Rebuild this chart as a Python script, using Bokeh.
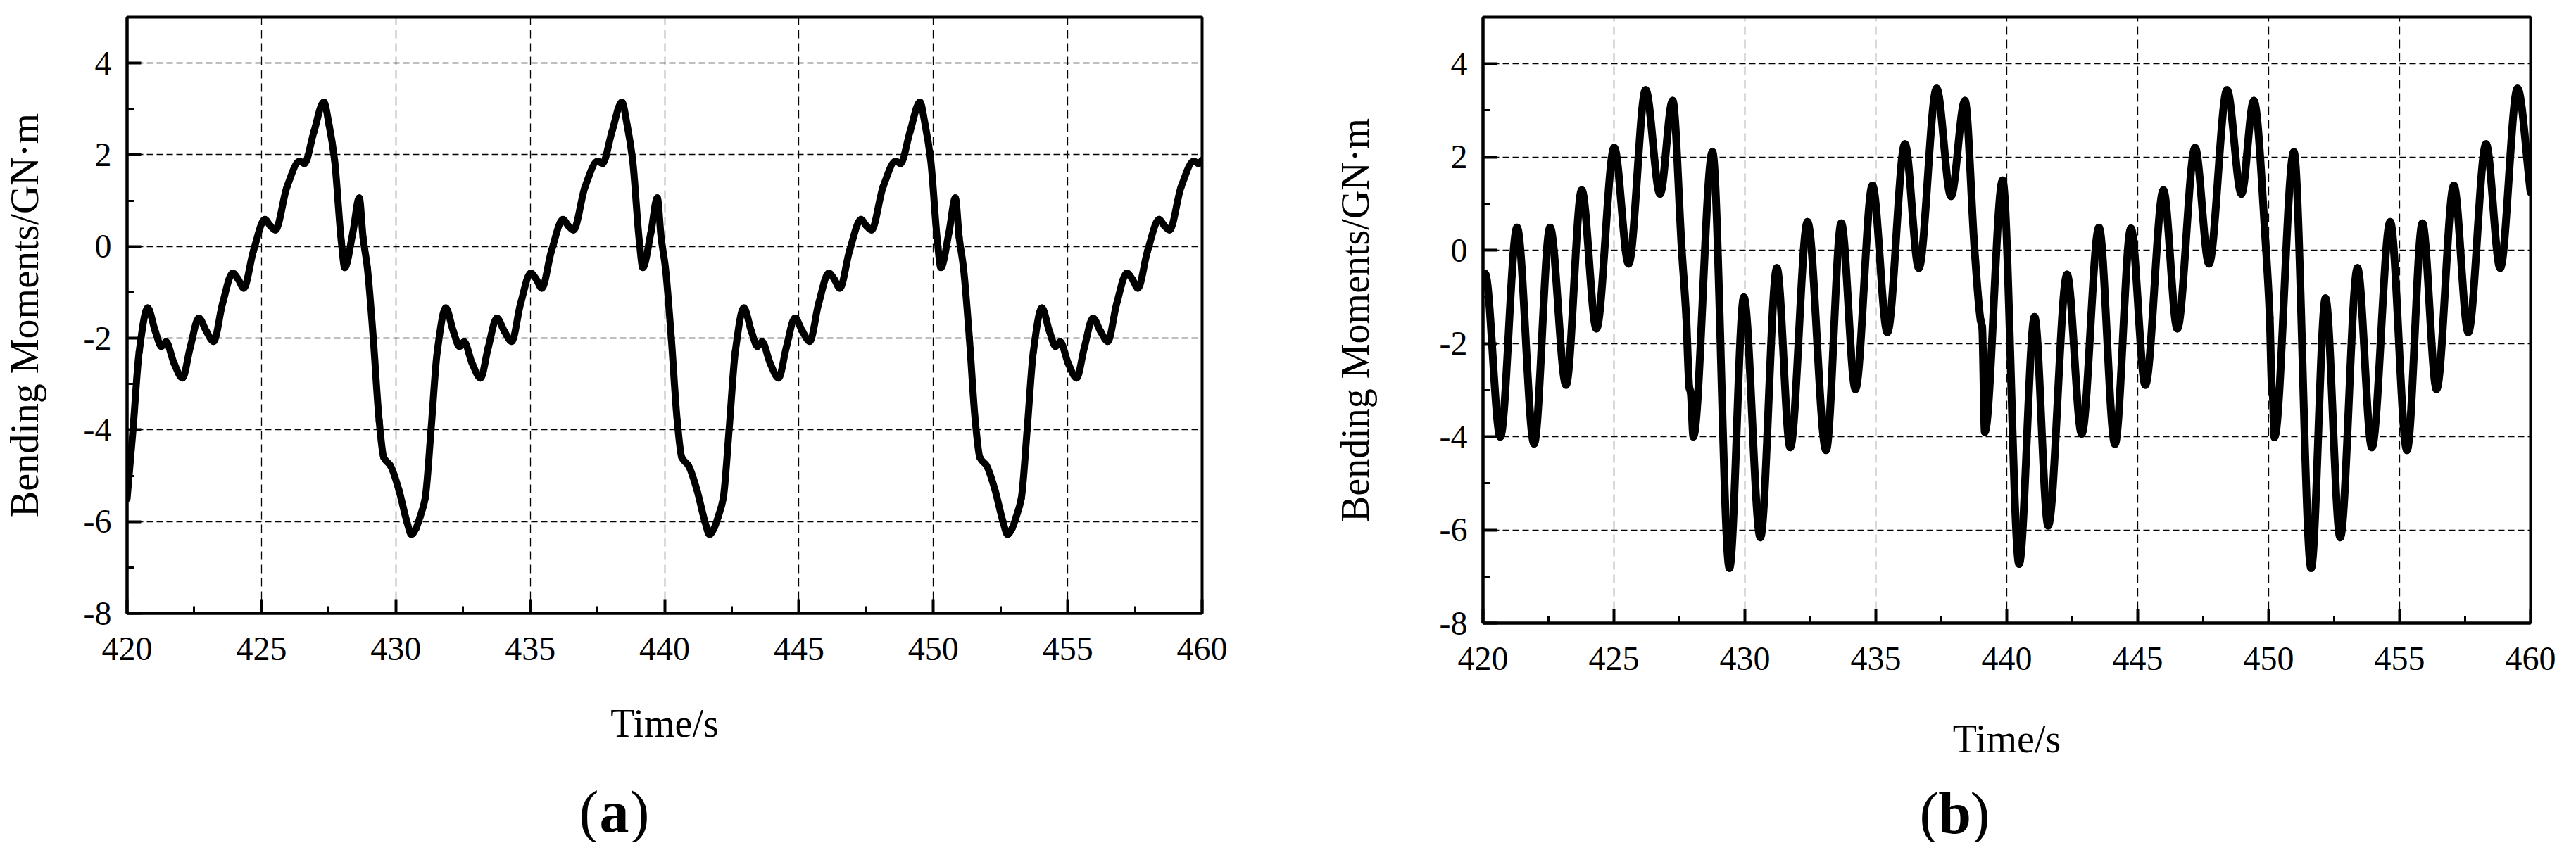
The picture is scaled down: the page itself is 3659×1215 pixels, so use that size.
import numpy as np
from bokeh.plotting import figure
from bokeh.models import FixedTicker, Range1d
from bokeh.layouts import row, column
from bokeh.core.properties import value
from bokeh.embed import file_html
from bokeh.resources import INLINE

# ---------------- data ----------------
x_ticks = [420, 425, 430, 435, 440, 445, 450, 455, 460]
x_minor = [422.5, 427.5, 432.5, 437.5, 442.5, 447.5, 452.5, 457.5]
y_ticks = [-8, -6, -4, -2, 0, 2, 4]
y_minor = [-7, -5, -3, -1, 1, 3]

y_title = "Bending Moments/GN\u00b7m"
x_title = "Time/s"
captions = ["a", "b"]

# (a) time [s]
time_a = [
    420.00, 420.22, 420.45, 420.77, 421.05, 421.28, 421.45, 421.75, 422.06, 422.35,
    422.67, 422.95, 423.22, 423.55, 423.93, 424.14, 424.34, 424.70, 425.13, 425.33,
    425.52, 425.95, 426.42, 426.60, 426.95, 427.32, 427.52, 427.72, 427.97, 428.10,
    428.40, 428.64, 428.78, 428.94, 429.16, 429.38, 429.55, 429.80, 430.11, 430.41,
    430.58, 430.75, 430.90,
    431.09, 431.31, 431.54, 431.86, 432.14, 432.37, 432.54, 432.84, 433.15, 433.44,
    433.76, 434.04, 434.31, 434.64, 435.02, 435.23, 435.43, 435.79, 436.22, 436.42,
    436.61, 437.04, 437.51, 437.69, 438.04, 438.41, 438.61, 438.81, 439.06, 439.19,
    439.49, 439.73, 439.87, 440.03, 440.25, 440.47, 440.64, 440.89, 441.20, 441.50,
    441.67, 441.84, 441.99,
    442.18, 442.40, 442.63, 442.95, 443.23, 443.46, 443.63, 443.93, 444.24, 444.53,
    444.85, 445.13, 445.40, 445.73, 446.11, 446.32, 446.52, 446.88, 447.31, 447.51,
    447.70, 448.13, 448.60, 448.78, 449.13, 449.50, 449.70, 449.90, 450.15, 450.28,
    450.58, 450.82, 450.96, 451.12, 451.34, 451.56, 451.73, 451.98, 452.29, 452.59,
    452.76, 452.93, 453.08,
    453.27, 453.49, 453.72, 454.04, 454.32, 454.55, 454.72, 455.02, 455.33, 455.62,
    455.94, 456.22, 456.49, 456.82, 457.20, 457.41, 457.61, 457.97, 458.40, 458.60,
    458.79, 459.22, 459.69, 459.87, 460.00,
]
# (a) bending moment [GN·m]
moment_a = [
    -5.50, -4.00, -2.30, -1.34, -1.85, -2.18, -2.08, -2.55, -2.87, -2.20,
    -1.56, -1.85, -2.07, -1.25, -0.58, -0.72, -0.91, -0.10, 0.59, 0.45,
    0.36, 1.30, 1.86, 1.81, 2.50, 3.15, 2.64, 1.89, 0.12, -0.46,
    0.30, 1.06, 0.20, -0.46, -2.00, -3.80, -4.60, -4.78, -5.30, -6.00,
    -6.28, -6.15, -5.90,
    -5.50, -4.00, -2.30, -1.34, -1.85, -2.18, -2.08, -2.55, -2.87, -2.20,
    -1.56, -1.85, -2.07, -1.25, -0.58, -0.72, -0.91, -0.10, 0.59, 0.45,
    0.36, 1.30, 1.86, 1.81, 2.50, 3.15, 2.64, 1.89, 0.12, -0.46,
    0.30, 1.06, 0.20, -0.46, -2.00, -3.80, -4.60, -4.78, -5.30, -6.00,
    -6.28, -6.15, -5.90,
    -5.50, -4.00, -2.30, -1.34, -1.85, -2.18, -2.08, -2.55, -2.87, -2.20,
    -1.56, -1.85, -2.07, -1.25, -0.58, -0.72, -0.91, -0.10, 0.59, 0.45,
    0.36, 1.30, 1.86, 1.81, 2.50, 3.15, 2.64, 1.89, 0.12, -0.46,
    0.30, 1.06, 0.20, -0.46, -2.00, -3.80, -4.60, -4.78, -5.30, -6.00,
    -6.28, -6.15, -5.90,
    -5.50, -4.00, -2.30, -1.34, -1.85, -2.18, -2.08, -2.55, -2.87, -2.20,
    -1.56, -1.85, -2.07, -1.25, -0.58, -0.72, -0.91, -0.10, 0.59, 0.45,
    0.36, 1.30, 1.86, 1.81, 1.88,
]

# (b) time [s]
time_b = [
    420.00, 420.08, 420.66, 421.30, 421.95, 422.56, 423.17, 423.77, 424.33, 425.01,
    425.56, 426.21, 426.76, 427.24, 427.59, 427.76, 427.88, 427.93, 428.03, 428.76,
    429.41, 429.96, 430.59, 431.22, 431.73, 432.39, 433.10, 433.68, 434.22, 434.87,
    435.44, 436.11, 436.64, 437.32, 437.87, 438.40, 438.77, 439.00, 439.06, 439.16,
    439.84, 440.47, 441.06, 441.58, 442.30, 442.86, 443.52, 444.13, 444.74, 445.29,
    445.98, 446.51, 447.19, 447.72, 448.41, 448.96, 449.43, 449.90, 450.04, 450.12,
    450.15, 450.22, 450.96, 451.62, 452.17, 452.73, 453.39, 453.94, 454.64, 455.28,
    455.87, 456.41, 457.07, 457.62, 458.30, 458.84, 459.50, 460.00,
]
# (b) bending moment [GN·m]
moment_b = [
    -0.58, -0.50, -4.00, 0.49, -4.15, 0.49, -2.89, 1.29, -1.68, 2.20,
    -0.29, 3.44, 1.21, 3.21, 0.00, -1.44, -2.95, -3.05, -4.00, 2.11,
    -6.82, -1.01, -6.16, -0.38, -4.23, 0.61, -4.29, 0.58, -2.98, 1.39,
    -1.76, 2.28, -0.38, 3.47, 1.16, 3.21, 0.00, -1.50, -1.65, -3.90,
    1.50, -6.73, -1.43, -5.91, -0.52, -3.94, 0.49, -4.16, 0.47, -2.89,
    1.29, -1.68, 2.20, -0.29, 3.44, 1.21, 3.21, 0.00, -1.44, -2.95,
    -3.05, -4.01, 2.11, -6.82, -1.03, -6.16, -0.38, -4.23, 0.61, -4.29,
    0.58, -2.98, 1.39, -1.76, 2.28, -0.38, 3.47, 1.24,
]

FONT = "Liberation Serif"


def smooth_segments(t, v):
    """Monotone cubic (Fritsch-Carlson) rendering through the read points,
    returned as Bezier segments (no extra data points are created)."""
    t = np.asarray(t, float)
    v = np.asarray(v, float)
    h = np.diff(t)
    d = np.diff(v) / h
    m = np.zeros_like(t)
    m[0] = d[0]
    m[-1] = d[-1]
    for i in range(1, len(t) - 1):
        if d[i - 1] * d[i] > 0:
            w1 = 2 * h[i] + h[i - 1]
            w2 = h[i] + 2 * h[i - 1]
            m[i] = (w1 + w2) / (w1 / d[i - 1] + w2 / d[i])
    return dict(
        x0=t[:-1], y0=v[:-1], x1=t[1:], y1=v[1:],
        cx0=t[:-1] + h / 3, cy0=v[:-1] + m[:-1] * h / 3,
        cx1=t[1:] - h / 3, cy1=v[1:] - m[1:] * h / 3,
    )


def make_panel(t, v, lw, fw, fh, mb_left, mb_right, mb_top, mb_bottom,
               xlab_standoff, ylab_standoff):
    p = figure(
        frame_width=fw, frame_height=fh,
        x_range=Range1d(420, 460), y_range=Range1d(-8, 5),
        output_backend="svg", toolbar_location=None,
        min_border_left=mb_left, min_border_right=mb_right,
        min_border_top=mb_top, min_border_bottom=mb_bottom,
        background_fill_color="white", border_fill_color="white",
    )
    p.outline_line_color = "black"
    p.outline_line_width = 4
    p.outline_line_alpha = 1.0

    p.xaxis.ticker = FixedTicker(ticks=x_ticks, minor_ticks=x_minor)
    p.yaxis.ticker = FixedTicker(ticks=y_ticks, minor_ticks=y_minor)
    p.xaxis.major_label_overrides = {k: str(k) for k in x_ticks}
    p.yaxis.major_label_overrides = {k: str(k) for k in y_ticks}

    for ax in (p.xaxis, p.yaxis):
        ax.axis_line_width = 4
        ax.axis_line_color = "black"
        ax.major_tick_line_width = 4
        ax.major_tick_line_color = "black"
        ax.major_tick_in = 20
        ax.major_tick_out = 0
        ax.minor_tick_line_width = 3
        ax.minor_tick_line_color = "black"
        ax.minor_tick_in = 10
        ax.minor_tick_out = 0
        ax.major_label_text_font = FONT
        ax.major_label_text_font_size = "48px"
        ax.major_label_text_color = "black"
        ax.axis_label_text_font = FONT
        ax.axis_label_text_font_size = "56px"
        ax.axis_label_text_font_style = "normal"
        ax.axis_label_text_color = "black"

    p.xaxis.major_label_standoff = 34
    p.yaxis.major_label_standoff = 22
    p.xaxis.axis_label = x_title
    p.xaxis.axis_label_standoff = xlab_standoff
    p.yaxis.axis_label = y_title
    p.yaxis.axis_label_standoff = ylab_standoff

    p.xgrid.grid_line_color = "black"
    p.xgrid.grid_line_width = 1.3
    p.xgrid.grid_line_dash = "12 7"
    p.ygrid.grid_line_color = "black"
    p.ygrid.grid_line_width = 1.3
    p.ygrid.grid_line_dash = "9 5"

    seg = smooth_segments(t, v)
    p.bezier(source=seg, x0="x0", y0="y0", x1="x1", y1="y1",
             cx0="cx0", cy0="cy0", cx1="cx1", cy1="cy1",
             line_color="black", line_width=lw, line_cap="round")
    return p


def make_caption(letter, width, height, cx, baseline_from_bottom):
    c = figure(width=width, height=height, x_range=Range1d(0, width),
               y_range=Range1d(0, height), output_backend="svg",
               toolbar_location=None, x_axis_type=None, y_axis_type=None,
               min_border=0, background_fill_color=None,
               border_fill_color=None)
    c.outline_line_color = None
    c.xgrid.visible = False
    c.ygrid.visible = False
    common = dict(text_font=value(FONT), text_font_size="84px",
                  text_baseline="alphabetic", text_color="black")
    c.text(x=[cx], y=[baseline_from_bottom], text=[letter], text_align="center",
           text_font_style="bold", **common)
    c.text(x=[cx], y=[baseline_from_bottom], text=["("], text_align="right",
           x_offset=-22, **common)
    c.text(x=[cx], y=[baseline_from_bottom], text=[")"], text_align="left",
           x_offset=22, **common)
    return c


p1 = make_panel(time_a, moment_a, 10, 1527, 847, 180, 65, 19, 219, 56, 50)
p2 = make_panel(time_b, moment_b, 11, 1488, 861, 334, 40, 24, 200, 64, 86)

# caption strip: transparent, pulled up so the captions have room above them
c1 = make_caption(captions[0], 1772, 172, 872, 44)
c2 = make_caption(captions[1], 1862, 172, 1004, 42)
caption_row = row(c1, c2)
caption_row.margin = (-60, 0, 0, 0)

layout = column(row(p1, p2), caption_row)
open("out.html", "w").write(file_html(layout, INLINE))
